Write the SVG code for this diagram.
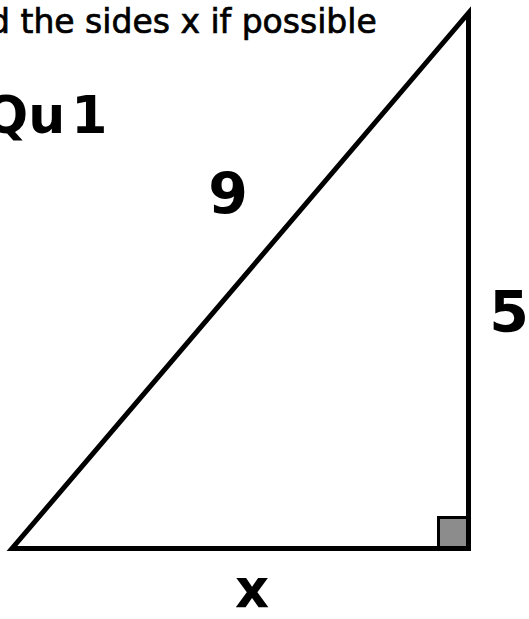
<svg xmlns="http://www.w3.org/2000/svg" width="529" height="619" viewBox="0 0 529 619">
  <style>
    .lbl { font-family: "DejaVu Sans", "Liberation Sans", sans-serif; font-weight: bold; fill: #000; }
    .instr { font-family: "DejaVu Sans", "Liberation Sans", sans-serif; font-size: 33px; fill: #000; stroke: #000; stroke-width: 0.7; }
    .edge { fill: none; stroke: #000; stroke-width: 5; stroke-linejoin: miter; stroke-miterlimit: 10; }
  </style>
  <rect width="529" height="619" fill="#fff"/>
  <text class="instr" x="-11" y="33">d the sides x if possible</text>
  <text class="lbl" x="-16" y="133" font-size="52" word-spacing="-12">Qu 1</text>
  <g id="triangle">
    <path class="edge" d="M12,548.5 L468.5,548.5 L468.5,13 Z"/>
    <rect id="right-angle" x="438.5" y="517.5" width="29" height="30" fill="#8c8c8c" stroke="#000" stroke-width="3"/>
  </g>
  <g id="labels">
    <text class="lbl" x="228" y="214" font-size="57" text-anchor="middle">9</text>
    <text class="lbl" x="509" y="332" font-size="57" text-anchor="middle">5</text>
    <text class="lbl" x="252" y="607" font-size="53" text-anchor="middle">x</text>
  </g>
</svg>
